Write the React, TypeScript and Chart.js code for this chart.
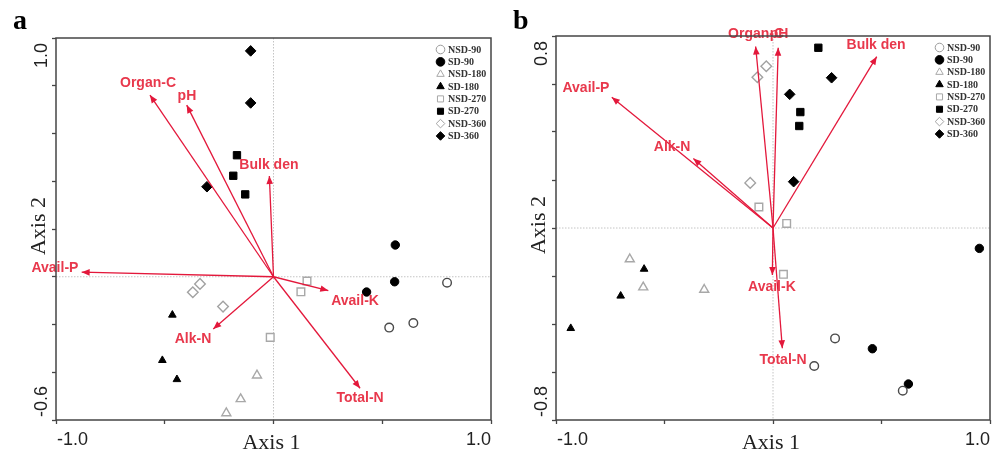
import React, { useEffect, useRef } from 'react';
import { Chart, registerables } from 'chart.js';
import { drawPoint } from 'chart.js/helpers';

Chart.register(...registerables);

// ---------- shared names ----------
const GROUP_NAMES = ['NSD-90', 'SD-90', 'NSD-180', 'SD-180', 'NSD-270', 'SD-270', 'NSD-360', 'SD-360'];
const VAR_NAMES = ['Organ-C', 'pH', 'Bulk den', 'Avail-P', 'Avail-K', 'Alk-N', 'Total-N'];

// ---------- panel a : sample scores ----------
const A_NSD90_X = [0.798, 0.643, 0.532];
const A_NSD90_Y = [-0.025, -0.194, -0.213];
const A_SD90_X = [0.56, 0.557, 0.428];
const A_SD90_Y = [0.133, -0.021, -0.064];
const A_NSD180_X = [-0.076, -0.151, -0.217];
const A_NSD180_Y = [-0.413, -0.512, -0.571];
const A_SD180_X = [-0.465, -0.511, -0.444];
const A_SD180_Y = [-0.16, -0.35, -0.43];
const A_NSD270_X = [0.154, 0.126, -0.015];
const A_NSD270_Y = [-0.018, -0.063, -0.254];
const A_SD270_X = [-0.168, -0.185, -0.13];
const A_SD270_Y = [0.509, 0.423, 0.345];
const A_NSD360_X = [-0.338, -0.371, -0.232];
const A_NSD360_Y = [-0.03, -0.065, -0.125];
const A_SD360_X = [-0.105, -0.105, -0.306];
const A_SD360_Y = [0.946, 0.728, 0.377];

// ---------- panel a : environmental vectors ----------
const A_TIP_X = [-0.568, -0.399, -0.019, -0.882, 0.252, -0.277, 0.398];
const A_TIP_Y = [0.761, 0.719, 0.422, 0.019, -0.058, -0.219, -0.467];
const A_LABEL_X = [-0.577, -0.398, -0.021, -1.005, 0.375, -0.37, 0.398];
const A_LABEL_Y = [0.812, 0.757, 0.468, 0.037, -0.102, -0.261, -0.508];

// ---------- panel a : axes ----------
const A_X_RANGE = [-1.0, 1.0];
const A_Y_RANGE = [-0.6, 1.0];
const A_X_TICK_VALUES = [-1.0, 1.0];
const A_X_TICK_LABELS = ['-1.0', '1.0'];
const A_Y_TICK_VALUES = [1.0, -0.6];
const A_Y_TICK_LABELS = ['1.0', '-0.6'];

// ---------- panel b : sample scores ----------
const B_NSD90_X = [0.286, 0.19, 0.598];
const B_NSD90_Y = [-0.46, -0.575, -0.678];
const B_SD90_X = [0.951, 0.458, 0.624];
const B_SD90_Y = [-0.085, -0.503, -0.65];
const B_NSD180_X = [-0.66, -0.598, -0.317];
const B_NSD180_Y = [-0.13, -0.247, -0.257];
const B_SD180_X = [-0.594, -0.702, -0.932];
const B_SD180_Y = [-0.171, -0.283, -0.418];
const B_NSD270_X = [-0.065, 0.063, 0.048];
const B_NSD270_Y = [0.0875, 0.019, -0.193];
const B_SD270_X = [0.209, 0.126, 0.121];
const B_SD270_Y = [0.751, 0.483, 0.425];
const B_NSD360_X = [-0.031, -0.072, -0.105];
const B_NSD360_Y = [0.674, 0.628, 0.188];
const B_SD360_X = [0.27, 0.077, 0.095];
const B_SD360_Y = [0.626, 0.557, 0.193];

// ---------- panel b : environmental vectors ----------
const B_TIP_X = [-0.08, 0.024, 0.478, -0.743, -0.003, -0.367, 0.043];
const B_TIP_Y = [0.756, 0.751, 0.714, 0.545, -0.196, 0.29, -0.501];
const B_LABEL_X = [-0.078, 0.028, 0.475, -0.862, -0.005, -0.465, 0.046];
const B_LABEL_Y = [0.808, 0.808, 0.7625, 0.583, -0.246, 0.3375, -0.55];

// ---------- panel b : axes ----------
const B_X_RANGE = [-1.0, 1.0];
const B_Y_RANGE = [-0.8, 0.8];
const B_X_TICK_VALUES = [-1.0, 1.0];
const B_X_TICK_LABELS = ['-1.0', '1.0'];
const B_Y_TICK_VALUES = [0.8, -0.8];
const B_Y_TICK_LABELS = ['0.8', '-0.8'];

// ---------- styles ----------
const GROUP_SHAPES = ['circle', 'circle', 'triangle', 'triangle', 'rect', 'rect', 'rectRot', 'rectRot'];
const GROUP_FILLED = [false, true, false, true, false, true, false, true];
const GROUP_EDGE = ['#4a4a4a', '#000000', '#a8a8a8', '#000000', '#a8a8a8', '#000000', '#a2a2a2', '#000000'];
const GROUP_LEGEND_EDGE = ['#9a9a9a', '#000000', '#a8a8a8', '#000000', '#a8a8a8', '#000000', '#a2a2a2', '#000000'];
const GROUP_RADIUS = [4.3, 4.2, 5.2, 4.4, 5.4, 5.2, 5.3, 5.3];

const ARROW_COLOR = '#e3183b';
const LABEL_COLOR = '#e8384c';
const FRAME_COLOR = '#454545';
const SERIF = '"Liberation Serif", "Times New Roman", serif';
const SANS = '"Liberation Sans", Arial, sans-serif';

type Panel = {
  letter: string;
  siteX: number[][];
  siteY: number[][];
  tipX: number[];
  tipY: number[];
  labelX: number[];
  labelY: number[];
  xRange: number[];
  yRange: number[];
  xTickValues: number[];
  xTickLabels: string[];
  yTickValues: number[];
  yTickLabels: string[];
  padTop: number;
  padRight: number;
};

const PANEL_A: Panel = {
  letter: 'a',
  siteX: [A_NSD90_X, A_SD90_X, A_NSD180_X, A_SD180_X, A_NSD270_X, A_SD270_X, A_NSD360_X, A_SD360_X],
  siteY: [A_NSD90_Y, A_SD90_Y, A_NSD180_Y, A_SD180_Y, A_NSD270_Y, A_SD270_Y, A_NSD360_Y, A_SD360_Y],
  tipX: A_TIP_X,
  tipY: A_TIP_Y,
  labelX: A_LABEL_X,
  labelY: A_LABEL_Y,
  xRange: A_X_RANGE,
  yRange: A_Y_RANGE,
  xTickValues: A_X_TICK_VALUES,
  xTickLabels: A_X_TICK_LABELS,
  yTickValues: A_Y_TICK_VALUES,
  yTickLabels: A_Y_TICK_LABELS,
  padTop: 38,
  padRight: 9,
};

const PANEL_B: Panel = {
  letter: 'b',
  siteX: [B_NSD90_X, B_SD90_X, B_NSD180_X, B_SD180_X, B_NSD270_X, B_SD270_X, B_NSD360_X, B_SD360_X],
  siteY: [B_NSD90_Y, B_SD90_Y, B_NSD180_Y, B_SD180_Y, B_NSD270_Y, B_SD270_Y, B_NSD360_Y, B_SD360_Y],
  tipX: B_TIP_X,
  tipY: B_TIP_Y,
  labelX: B_LABEL_X,
  labelY: B_LABEL_Y,
  xRange: B_X_RANGE,
  yRange: B_Y_RANGE,
  xTickValues: B_X_TICK_VALUES,
  xTickLabels: B_X_TICK_LABELS,
  yTickValues: B_Y_TICK_VALUES,
  yTickLabels: B_Y_TICK_LABELS,
  padTop: 36,
  padRight: 10,
};

function makeOverlay(p: Panel) {
  return {
    id: 'biplotOverlay',
    beforeDatasetsDraw(chart: any) {
      const { ctx, chartArea: ca, scales } = chart;
      const x0 = scales.x.getPixelForValue(0);
      const y0 = scales.y.getPixelForValue(0);
      ctx.save();
      ctx.strokeStyle = '#c4c4c4';
      ctx.lineWidth = 1;
      ctx.setLineDash([1.5, 1.5]);
      ctx.beginPath();
      ctx.moveTo(x0, ca.top);
      ctx.lineTo(x0, ca.bottom);
      ctx.moveTo(ca.left, y0);
      ctx.lineTo(ca.right, y0);
      ctx.stroke();
      ctx.restore();
    },
    afterDatasetsDraw(chart: any) {
      const { ctx, chartArea: ca, scales } = chart;
      const sx = scales.x;
      const sy = scales.y;
      const ox = sx.getPixelForValue(0);
      const oy = sy.getPixelForValue(0);
      ctx.save();
      // arrowheads
      ctx.fillStyle = ARROW_COLOR;
      p.tipX.forEach((tx, k) => {
        const px = sx.getPixelForValue(tx);
        const py = sy.getPixelForValue(p.tipY[k]);
        const a = Math.atan2(py - oy, px - ox);
        const L = 8;
        const W = 3.3;
        const bx = px - L * Math.cos(a);
        const by = py - L * Math.sin(a);
        ctx.beginPath();
        ctx.moveTo(px, py);
        ctx.lineTo(bx - W * Math.sin(a), by + W * Math.cos(a));
        ctx.lineTo(bx + W * Math.sin(a), by - W * Math.cos(a));
        ctx.closePath();
        ctx.fill();
      });
      // vector labels
      ctx.fillStyle = LABEL_COLOR;
      ctx.font = `bold 14px ${SANS}`;
      ctx.textAlign = 'center';
      ctx.textBaseline = 'middle';
      VAR_NAMES.forEach((name, k) => {
        ctx.fillText(name, sx.getPixelForValue(p.labelX[k]), sy.getPixelForValue(p.labelY[k]));
      });
      // frame
      ctx.strokeStyle = FRAME_COLOR;
      ctx.lineWidth = 1.5;
      ctx.strokeRect(ca.left, ca.top, ca.right - ca.left, ca.bottom - ca.top);
      // legend
      const lx = ca.right - 50.5;
      const ly = ca.top + 11.5;
      const step = 12.35;
      ctx.font = `bold 10px ${SERIF}`;
      ctx.textAlign = 'left';
      ctx.textBaseline = 'middle';
      GROUP_NAMES.forEach((name, g) => {
        const y = ly + g * step;
        ctx.fillStyle = GROUP_FILLED[g] ? '#000' : '#fff';
        ctx.strokeStyle = GROUP_LEGEND_EDGE[g];
        ctx.lineWidth = 1;
        drawPoint(ctx, { pointStyle: GROUP_SHAPES[g], rotation: 0, radius: 4.3, borderWidth: 1 }, lx, y);
        ctx.fillStyle = '#333';
        ctx.fillText(name, lx + 7.5, y + 0.5);
      });
      ctx.restore();
    },
    afterDraw(chart: any) {
      const { ctx, chartArea: ca, scales } = chart;
      const sx = scales.x;
      const sy = scales.y;
      ctx.save();
      ctx.fillStyle = '#222';
      // x tick labels
      ctx.font = `18px ${SANS}`;
      ctx.textBaseline = 'alphabetic';
      p.xTickValues.forEach((v, i) => {
        const px = sx.getPixelForValue(v);
        ctx.textAlign = v === p.xRange[0] ? 'left' : v === p.xRange[1] ? 'right' : 'center';
        ctx.fillText(p.xTickLabels[i], v === p.xRange[0] ? px + 1 : px, ca.bottom + 25);
      });
      // x title
      ctx.font = `22px ${SERIF}`;
      ctx.textAlign = 'center';
      ctx.fillText('Axis 1', (ca.left + ca.right) / 2 - 2, ca.bottom + 29);
      // y tick labels (rotated)
      ctx.font = `18px ${SANS}`;
      p.yTickValues.forEach((v, i) => {
        const py = sy.getPixelForValue(v);
        ctx.save();
        if (v === p.yRange[1]) {
          ctx.translate(ca.left - 9, py + 5);
          ctx.rotate(-Math.PI / 2);
          ctx.textAlign = 'right';
        } else {
          ctx.translate(ca.left - 9, py - 3);
          ctx.rotate(-Math.PI / 2);
          ctx.textAlign = 'left';
        }
        ctx.textBaseline = 'alphabetic';
        ctx.fillText(p.yTickLabels[i], 0, 0);
        ctx.restore();
      });
      // y title
      ctx.save();
      ctx.font = `22px ${SERIF}`;
      ctx.translate(ca.left - 11, (ca.top + ca.bottom) / 2 - 3);
      ctx.rotate(-Math.PI / 2);
      ctx.textAlign = 'center';
      ctx.textBaseline = 'alphabetic';
      ctx.fillText('Axis 2', 0, 0);
      ctx.restore();
      // panel letter
      ctx.fillStyle = '#000';
      ctx.font = `bold 28px ${SERIF}`;
      ctx.textAlign = 'left';
      ctx.textBaseline = 'alphabetic';
      ctx.fillText(p.letter, 13, 29);
      ctx.restore();
    },
  };
}

function Biplot({ panel }: { panel: Panel }) {
  const ref = useRef<HTMLCanvasElement>(null);
  useEffect(() => {
    const p = panel;
    const datasets: any[] = [];
    p.siteX.forEach((xs, g) => {
      datasets.push({
        label: GROUP_NAMES[g],
        data: xs.map((x, i) => ({ x, y: p.siteY[g][i] })),
        showLine: false,
        pointStyle: GROUP_SHAPES[g],
        pointRadius: GROUP_RADIUS[g],
        pointHoverRadius: GROUP_RADIUS[g],
        pointBackgroundColor: GROUP_FILLED[g] ? '#000' : '#fff',
        pointBorderColor: GROUP_EDGE[g],
        pointBorderWidth: GROUP_FILLED[g] ? 1 : 1.4,
        order: 2,
      });
    });
    VAR_NAMES.forEach((name, k) => {
      datasets.push({
        label: name,
        data: [
          { x: 0, y: 0 },
          { x: p.tipX[k], y: p.tipY[k] },
        ],
        showLine: true,
        borderColor: ARROW_COLOR,
        backgroundColor: ARROW_COLOR,
        borderWidth: 1.3,
        pointRadius: 0,
        pointHoverRadius: 0,
        fill: false,
        order: 1,
      });
    });
    const tickGrid = {
      drawOnChartArea: false,
      drawTicks: true,
      tickLength: 4,
      tickColor: FRAME_COLOR,
      tickWidth: 1.3,
      color: FRAME_COLOR,
    };
    const chart = new Chart(ref.current as HTMLCanvasElement, {
      type: 'scatter',
      data: { datasets },
      options: {
        animation: false,
        responsive: false,
        devicePixelRatio: 1,
        events: [],
        layout: { padding: { top: p.padTop, right: p.padRight, left: 0, bottom: 0 } },
        plugins: { legend: { display: false }, tooltip: { enabled: false } },
        scales: {
          x: {
            type: 'linear',
            min: p.xRange[0],
            max: p.xRange[1],
            ticks: { stepSize: 0.5, display: false },
            grid: tickGrid,
            border: { display: false },
            afterFit: (s: any) => {
              s.height = 35;
            },
          },
          y: {
            type: 'linear',
            min: p.yRange[0],
            max: p.yRange[1],
            ticks: { stepSize: 0.2, display: false },
            grid: tickGrid,
            border: { display: false },
            afterFit: (s: any) => {
              s.width = 56;
            },
          },
        },
      } as any,
      plugins: [makeOverlay(p)],
    });
    return () => chart.destroy();
  }, [panel]);
  return <canvas ref={ref} width={500} height={455} style={{ display: 'block', width: 500, height: 455 }} />;
}

export default function App() {
  return (
    <div style={{ position: 'absolute', left: 0, top: 0, width: 1000, height: 455, display: 'flex', background: '#fff' }}>
      <Biplot panel={PANEL_A} />
      <Biplot panel={PANEL_B} />
    </div>
  );
}
